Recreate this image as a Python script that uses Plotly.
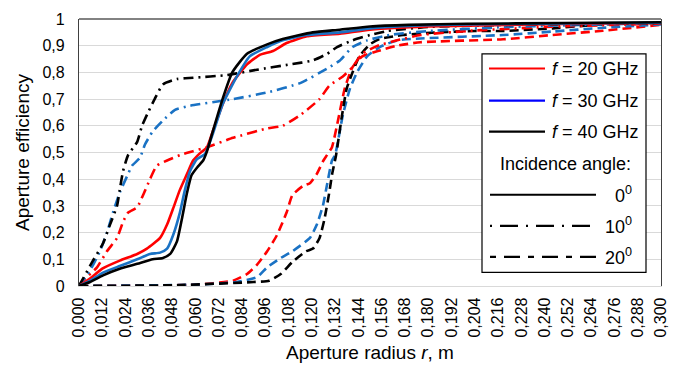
import plotly.graph_objects as go

# ---------------- data ----------------
x_ticks = [0.000, 0.012, 0.024, 0.036, 0.048, 0.060, 0.072, 0.084, 0.096, 0.108,
           0.120, 0.132, 0.144, 0.156, 0.168, 0.180, 0.192, 0.204, 0.216, 0.228,
           0.240, 0.252, 0.264, 0.276, 0.288, 0.300]
y_ticks = [0, 0.1, 0.2, 0.3, 0.4, 0.5, 0.6, 0.7, 0.8, 0.9, 1.0]

# 0 deg incidence (solid)
r_20_0 = [0, 0.006, 0.012, 0.021, 0.030, 0.035, 0.0418, 0.0454, 0.0485, 0.052, 0.0557, 0.0588,
          0.062, 0.066, 0.069, 0.074, 0.079, 0.0866, 0.093, 0.100, 0.107, 0.1175, 0.1345,
          0.150, 0.180, 0.220, 0.260, 0.300]
e_20_0 = [0, 0.03, 0.065, 0.095, 0.12, 0.14, 0.18, 0.23, 0.29, 0.36, 0.42, 0.47,
          0.495, 0.52, 0.58, 0.68, 0.76, 0.83, 0.865, 0.88, 0.91, 0.935, 0.945,
          0.96, 0.972, 0.978, 0.982, 0.985]

r_30_0 = [0, 0.0057, 0.0124, 0.021, 0.030, 0.0366, 0.0418, 0.0454, 0.0485, 0.052, 0.0546, 0.0572,
          0.0608, 0.065, 0.069, 0.074, 0.0814, 0.088, 0.097, 0.105, 0.1175, 0.1345,
          0.150, 0.180, 0.220, 0.260, 0.300]
e_30_0 = [0, 0.02, 0.05, 0.075, 0.10, 0.12, 0.125, 0.14, 0.19, 0.275, 0.36, 0.43,
          0.475, 0.495, 0.57, 0.68, 0.785, 0.86, 0.895, 0.92, 0.94, 0.95,
          0.965, 0.977, 0.981, 0.984, 0.986]

r_40_0 = [0, 0.0057, 0.0124, 0.021, 0.030, 0.038, 0.0433, 0.047, 0.0505, 0.053, 0.0557, 0.058,
          0.061, 0.064, 0.066, 0.069, 0.074, 0.079, 0.0866, 0.097, 0.105, 0.1205, 0.1345,
          0.150, 0.170, 0.200, 0.250, 0.300]
e_40_0 = [0, 0.015, 0.04, 0.065, 0.083, 0.10, 0.105, 0.12, 0.167, 0.25, 0.35, 0.415,
          0.445, 0.47, 0.505, 0.58, 0.70, 0.80, 0.87, 0.905, 0.925, 0.95, 0.96,
          0.972, 0.978, 0.982, 0.985, 0.988]

# 10 deg incidence (dash-dot)
r_20_10 = [0, 0.002, 0.0093, 0.0144, 0.0196, 0.0227, 0.0253, 0.030, 0.033, 0.0366, 0.040, 0.0454,
           0.052, 0.0588, 0.066, 0.0794, 0.097, 0.105, 0.114, 0.124, 0.129, 0.136, 0.141,
           0.146, 0.154, 0.164, 0.176, 0.200, 0.240, 0.300]
e_20_10 = [0, 0.02, 0.07, 0.13, 0.18, 0.24, 0.275, 0.295, 0.34, 0.40, 0.45, 0.47,
           0.49, 0.505, 0.52, 0.555, 0.59, 0.60, 0.64, 0.70, 0.75, 0.785, 0.82,
           0.87, 0.90, 0.92, 0.94, 0.955, 0.97, 0.983]

r_30_10 = [0, 0.0057, 0.0108, 0.0144, 0.0175, 0.021, 0.0247, 0.0273, 0.0314, 0.034, 0.0381, 0.0433,
           0.0495, 0.0572, 0.0794, 0.097, 0.114, 0.128, 0.1345, 0.141, 0.1485, 0.160,
           0.180, 0.220, 0.260, 0.300]
e_30_10 = [0, 0.058, 0.13, 0.20, 0.275, 0.35, 0.41, 0.45, 0.48, 0.53, 0.58, 0.62,
           0.66, 0.675, 0.70, 0.725, 0.76, 0.815, 0.845, 0.895, 0.92, 0.94,
           0.955, 0.97, 0.978, 0.985]

r_40_10 = [0, 0.0072, 0.0124, 0.016, 0.0196, 0.021, 0.0227, 0.0253, 0.030, 0.0325, 0.0356, 0.039,
           0.0433, 0.0505, 0.0588, 0.0763, 0.0918, 0.1088, 0.1206, 0.128, 0.133, 0.141,
           0.150, 0.159, 0.180, 0.220, 0.260, 0.300]
e_40_10 = [0, 0.095, 0.16, 0.23, 0.30, 0.36, 0.43, 0.49, 0.54, 0.60, 0.65, 0.70,
           0.755, 0.775, 0.78, 0.79, 0.81, 0.83, 0.845, 0.87, 0.895, 0.92,
           0.94, 0.955, 0.97, 0.978, 0.982, 0.985]

# 20 deg incidence (dashed)
r_20_20 = [0, 0.060, 0.0794, 0.0866, 0.0918, 0.097, 0.102, 0.107, 0.110, 0.1155, 0.119, 0.1226,
           0.126, 0.1278, 0.1304, 0.1335, 0.137, 0.141, 0.146, 0.154, 0.164, 0.176,
           0.2186, 0.244, 0.270, 0.300]
e_20_20 = [0, 0.005, 0.02, 0.045, 0.08, 0.13, 0.19, 0.275, 0.34, 0.375, 0.385, 0.42,
           0.47, 0.49, 0.52, 0.62, 0.74, 0.82, 0.86, 0.88, 0.90, 0.913,
           0.924, 0.94, 0.956, 0.978]

r_30_20 = [0, 0.060, 0.0814, 0.0918, 0.097, 0.104, 0.110, 0.119, 0.1226, 0.1257, 0.128, 0.1304,
           0.132, 0.136, 0.1397, 0.1433, 0.1485, 0.155, 0.164, 0.176, 0.2186, 0.244,
           0.270, 0.300]
e_30_20 = [0, 0.005, 0.015, 0.033, 0.07, 0.105, 0.13, 0.18, 0.23, 0.30, 0.385, 0.47,
           0.49, 0.64, 0.74, 0.80, 0.86, 0.895, 0.92, 0.927, 0.94, 0.953,
           0.967, 0.98]

r_40_20 = [0, 0.050, 0.090, 0.098, 0.104, 0.110, 0.117, 0.1206, 0.124, 0.1265, 0.129, 0.1305,
           0.1325, 0.1356, 0.138, 0.141, 0.1445, 0.150, 0.155, 0.167, 0.185, 0.204,
           0.2186, 0.244, 0.270, 0.300]
e_40_20 = [0, 0.003, 0.015, 0.02, 0.045, 0.09, 0.13, 0.14, 0.18, 0.25, 0.35, 0.42,
           0.49, 0.64, 0.74, 0.80, 0.86, 0.905, 0.925, 0.94, 0.95, 0.955,
           0.955, 0.965, 0.98, 0.985]

freq_labels = ["20 GHz", "30 GHz", "40 GHz"]
angle_labels = ["0", "10", "20"]

# ---------------- style ----------------
RED = "#ff0000"
BLUE = "#1a72c4"
BLACK = "#000000"
FONT = "Liberation Sans, Arial, sans-serif"
DASHDOT = "10px,5px,2px,5px"
DASH = "9px,5px"
W = 2.6

series = [
    (r_20_20, e_20_20, RED, DASH), (r_30_20, e_30_20, BLUE, DASH), (r_40_20, e_40_20, BLACK, DASH),
    (r_20_10, e_20_10, RED, DASHDOT), (r_30_10, e_30_10, BLUE, DASHDOT), (r_40_10, e_40_10, BLACK, DASHDOT),
    (r_20_0, e_20_0, RED, "solid"), (r_30_0, e_30_0, BLUE, "solid"), (r_40_0, e_40_0, BLACK, "solid"),
]

fig = go.Figure()
for rx, ey, col, dash in series:
    fig.add_trace(go.Scatter(x=rx, y=ey, mode="lines", showlegend=False, hoverinfo="skip",
                             line=dict(color=col, width=W, dash=dash, shape="spline", smoothing=0.5)))

# plot-area geometry (px)
L, R, T, B = 79, 661, 11, 286
PW, PH = R - L, B - T


def px(x):
    return (x - L) / PW


def py(y):
    return (B - y) / PH


shapes = []
annotations = []
# top frame line
shapes.append(dict(type="line", xref="paper", yref="paper", x0=0, x1=1, y0=1, y1=1,
                   line=dict(color="#595959", width=1.3)))

# legend box
shapes.append(dict(type="rect", xref="paper", yref="paper", x0=px(482), x1=px(646), y0=py(272), y1=py(47),
                   fillcolor="white", line=dict(color="#000000", width=1.2)))
leg_cols = [RED, "#0000ff", BLACK]
rows_f = [62, 95, 127]
for lab, col, yy in zip(freq_labels, leg_cols, rows_f):
    shapes.append(dict(type="line", xref="paper", yref="paper", x0=px(489), x1=px(545), y0=py(yy), y1=py(yy),
                       line=dict(color=col, width=2.2)))
    annotations.append(dict(xref="paper", yref="paper", x=px(641), y=py(yy), xanchor="right", yanchor="middle",
                            text="<i>f</i> = " + lab, showarrow=False,
                            font=dict(family=FONT, size=18, color="#000")))
annotations.append(dict(xref="paper", yref="paper", x=px(633), y=py(160), xanchor="right", yanchor="middle",
                        text="Incidence angle:", showarrow=False, font=dict(family=FONT, size=18, color="#000")))
rows_a = [192, 224, 256]
leg_dash = ["solid", "2px,8px,18px,8px", "6px,8px,16px,8px"]
for lab, d, yy in zip(angle_labels, leg_dash, rows_a):
    shapes.append(dict(type="line", xref="paper", yref="paper", x0=px(490), x1=px(596), y0=py(yy), y1=py(yy),
                       line=dict(color=BLACK, width=2.2, dash=d)))
    annotations.append(dict(xref="paper", yref="paper", x=px(634), y=py(yy), xanchor="right", yanchor="middle",
                            text=lab + "<sup>0</sup>", showarrow=False,
                            font=dict(family=FONT, size=18, color="#000")))

# axis titles
annotations.append(dict(xref="paper", yref="paper", x=px(22), y=py(148), xanchor="center", yanchor="middle",
                        text="Aperture efficiency", textangle=-90, showarrow=False,
                        font=dict(family=FONT, size=19, color="#000")))
annotations.append(dict(xref="paper", yref="paper", x=px(370), y=py(354), xanchor="center", yanchor="middle",
                        text="Aperture radius <i>r</i>, m", showarrow=False,
                        font=dict(family=FONT, size=19, color="#000")))

x_tick_text = [("%.3f" % v).replace(".", ",") for v in x_ticks]
y_tick_text = [("%g" % v).replace(".", ",") for v in y_ticks]

fig.update_layout(
    width=681, height=370,
    margin=dict(l=L, r=681 - R, t=T, b=370 - B),
    paper_bgcolor="white", plot_bgcolor="white",
    font=dict(family=FONT, color="#000"),
    shapes=shapes, annotations=annotations,
    xaxis=dict(range=[0, 0.3], tickvals=x_ticks, ticktext=x_tick_text, tickangle=-90,
               tickfont=dict(family=FONT, size=16, color="#000"), showgrid=False,
               showline=True, linecolor="#d9d9d9", linewidth=1.3, zeroline=False, ticks="", ticklen=0,
               ticklabelstandoff=4),
    yaxis=dict(range=[0, 1], tickvals=y_ticks, ticktext=y_tick_text,
               tickfont=dict(family=FONT, size=16, color="#000"), showgrid=True, gridcolor="#d9d9d9",
               gridwidth=1.2, showline=True, mirror=True, linecolor="#404040", linewidth=1.3,
               zeroline=False, ticks="", ticklen=0, ticklabelstandoff=10),
)

fig.write_html("out.html")
